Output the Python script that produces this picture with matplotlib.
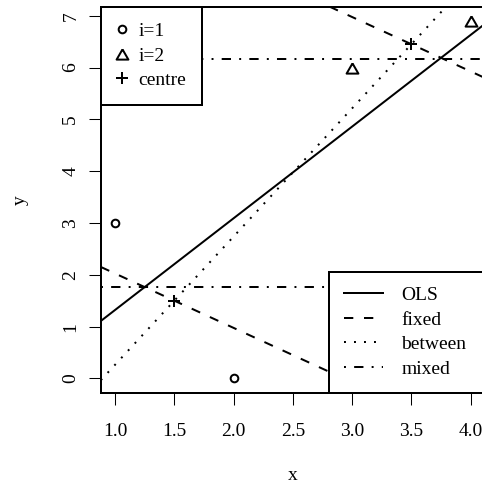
import matplotlib.pyplot as plt
from matplotlib.lines import Line2D

plt.rcParams['font.family'] = ['Liberation Serif', 'DejaVu Serif']
plt.rcParams['font.size'] = 14
plt.rcParams['lines.scale_dashes'] = False

# Observations, two groups and their centres.
group1_x = [1, 2]
group1_y = [3, 0]
group2_x = [3, 4]
group2_y = [6, 6.9]
centre_x = [1.5, 3.5]
centre_y = [1.5, 6.45]

# Fitted lines: (intercept, slope).
ols_line = (-0.45, 1.77)
fixed_lines = [(3.075, -1.05), (10.125, -1.05)]
between_line = (-2.2125, 2.475)
mixed_levels = [1.77, 6.16]

x_ticks = [1.0, 1.5, 2.0, 2.5, 3.0, 3.5, 4.0]
y_ticks = [0, 1, 2, 3, 4, 5, 6, 7]

LW = 1.44
dashed = (0, (6.7, 7.7))
dotted = (0, (1.4, 5.8))
dashdot = (0, (1.4, 5.9, 6.7, 5.9))
tri = [(0, 0.75), (-0.866, -0.75), (0.866, -0.75), (0, 0.75)]

fig = plt.figure(figsize=(4.82, 4.83), dpi=100)
ax = fig.add_axes([100.8 / 482, 90.3 / 483, 384.1 / 482, 386.1 / 483])
ax.set_xlim(0.88, 4.12)
ax.set_ylim(-0.276, 7.176)

ax.plot(group1_x, group1_y, ls='none', marker='o', ms=5.5, mfc='none',
        mec='k', mew=LW)
ax.plot(group2_x, group2_y, ls='none', marker=tri, ms=8.5, mfc='none',
        mec='k', mew=LW)
ax.plot(centre_x, centre_y, ls='none', marker='+', ms=8.5, mec='k', mew=LW)

ax.axline((0, ols_line[0]), slope=ols_line[1], color='k', lw=LW)
for b, m in fixed_lines:
    ax.axline((0, b), slope=m, color='k', lw=LW, ls=dashed)
ax.axline((0, between_line[0]), slope=between_line[1], color='k', lw=LW,
          ls=dotted)
for h in mixed_levels:
    ax.axhline(h, color='k', lw=LW, ls=dashdot)

ax.set_xticks(x_ticks)
ax.set_xticklabels([f'{v:.1f}' for v in x_ticks])
ax.set_yticks(y_ticks)
ax.set_yticklabels([str(v) for v in y_ticks], rotation=90, va='center')
ax.tick_params(axis='both', direction='out', length=8.6, width=0.75)
ax.tick_params(axis='x', pad=13.5)
ax.tick_params(axis='y', pad=6.9)
for s in ax.spines.values():
    s.set_linewidth(LW)

ax.set_xlabel('x', labelpad=19.5)
ax.set_ylabel('y', labelpad=24.3)

# Legends (R style, square boxes tucked into the corners).
pt_handles = [
    Line2D([], [], ls='none', marker='o', ms=5.5, mfc='none', mec='k', mew=LW),
    Line2D([], [], ls='none', marker=tri, ms=8.5, mfc='none', mec='k', mew=LW),
    Line2D([], [], ls='none', marker='+', ms=8.5, mec='k', mew=LW),
]
leg1 = ax.legend(pt_handles, ['i=1', 'i=2', 'centre'], loc='upper left',
                 bbox_to_anchor=(0, 1), borderaxespad=0, fancybox=False,
                 edgecolor='k', framealpha=1, handlelength=0.5,
                 handletextpad=0.6, borderpad=0.82, labelspacing=0.35)
leg1.get_frame().set_linewidth(LW)
ax.add_artist(leg1)

line_handles = [
    Line2D([], [], color='k', lw=LW),
    Line2D([], [], color='k', lw=LW, ls=dashed),
    Line2D([], [], color='k', lw=LW, ls=dotted),
    Line2D([], [], color='k', lw=LW, ls=dashdot),
]
x0 = (329 - 100.8) / 384.1
leg2 = ax.legend(line_handles, ['OLS', 'fixed', 'between', 'mixed'],
                 loc='lower left', bbox_to_anchor=(x0, 0, 1 - x0, 0.5),
                 mode='expand',
                 borderaxespad=0, fancybox=False, edgecolor='k', framealpha=1,
                 handlelength=2.0, handletextpad=0.95, borderpad=0.78,
                 labelspacing=0.35)
leg2.get_frame().set_linewidth(LW)

fig.savefig('out.png', dpi=100)
